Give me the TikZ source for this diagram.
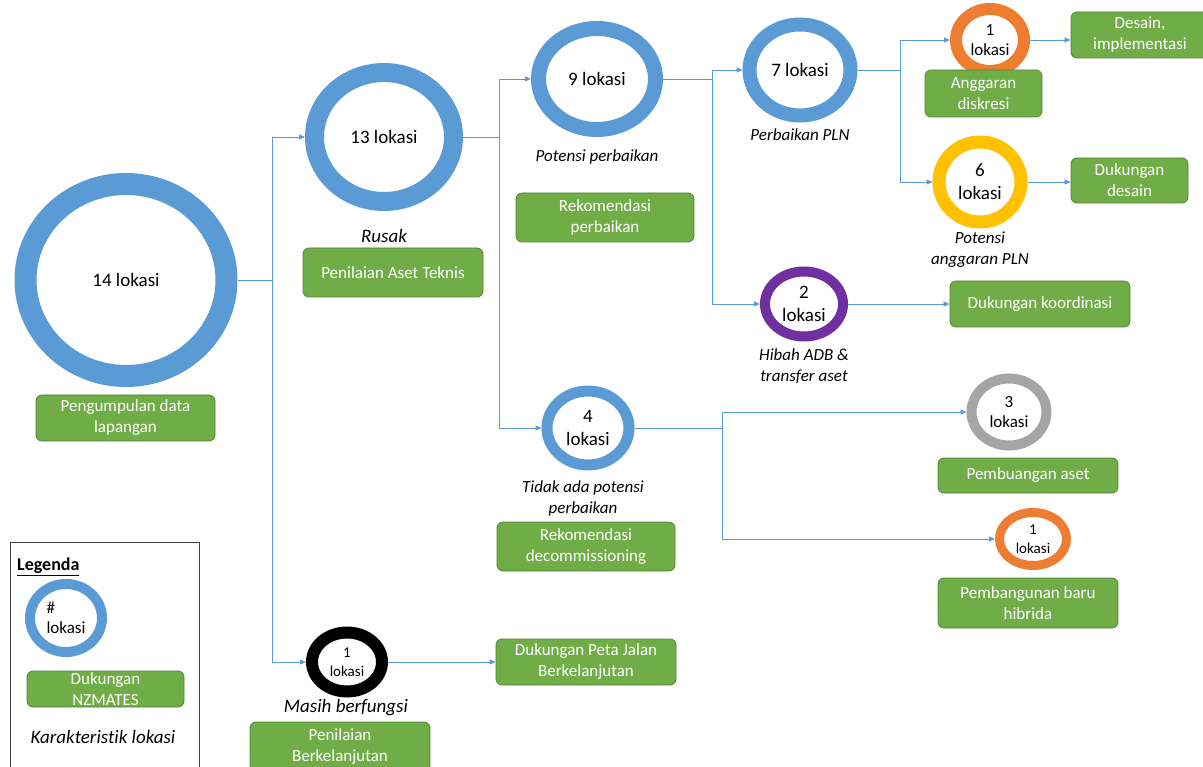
\documentclass[tikz,border=0pt]{standalone}
\usepackage{fontspec}
\setmainfont{Carlito}[Ligatures=NoCommon]
\usetikzlibrary{shapes.geometric,arrows.meta}

\definecolor{ringblue}{HTML}{5B9BD5}
\definecolor{ringorange}{HTML}{ED7D31}
\definecolor{ringyellow}{HTML}{FFC000}
\definecolor{ringpurple}{HTML}{7030A0}
\definecolor{ringgrey}{HTML}{A5A5A5}
\definecolor{boxgreen}{HTML}{70AD47}
\definecolor{boxedge}{HTML}{548235}
\definecolor{linkblue}{HTML}{5B9BD5}

\tikzset{
  ring/.style={ellipse, fill=white, inner sep=0pt, align=center, text=black},
  tbig/.style={font=\fontsize{19}{23}\selectfont},
  tmid/.style={font=\fontsize{17}{20}\selectfont},
  tsmall/.style={font=\fontsize{15}{19}\selectfont},
  greenbox/.style={rectangle, rounded corners=6pt, fill=boxgreen, draw=boxedge,
    line width=0.8pt, text=white, align=center, inner sep=0pt,
    font=\fontsize{17}{21}\selectfont},
  note/.style={font=\fontsize{17}{21}\selectfont\itshape, align=center, inner sep=0pt},
  bignote/.style={font=\fontsize{19}{23}\selectfont\itshape, align=center, inner sep=0pt},
  conn/.style={draw=linkblue, line width=0.75pt, -{Triangle[length=6pt,width=5pt]}},
  link/.style={draw=linkblue, line width=0.75pt},
}

\begin{document}
\begin{tikzpicture}[x=1pt,y=-1pt]
\useasboundingbox (0,0) rectangle (1203,767);

% ---- rings: site counts ----
\node[ring, draw=ringblue, line width=22pt, minimum width=201pt, minimum height=192pt, tbig] (n14) at (126,280) {14 lokasi};
\node[ring, draw=ringblue, line width=19pt, minimum width=139pt, minimum height=129pt, tbig] (n13) at (384,137) {13 lokasi};
\node[ring, draw=ringblue, line width=15pt, minimum width=117pt, minimum height=101pt, tbig] (n9) at (597,79) {9 lokasi};
\node[ring, draw=ringblue, line width=14pt, minimum width=101pt, minimum height=91pt, tbig] (n7) at (800,70) {7 lokasi};
\node[ring, draw=ringorange, line width=12pt, minimum width=68pt, minimum height=62pt, tmid] (n1a) at (990,40) {1\\lokasi};
\node[ring, draw=ringyellow, line width=13pt, minimum width=82pt, minimum height=80pt, tbig] (n6) at (980,182) {6\\lokasi};
\node[ring, draw=ringpurple, line width=10pt, minimum width=78pt, minimum height=65pt, tbig] (n2) at (804,304) {2\\lokasi};
\node[ring, draw=ringblue, line width=11pt, minimum width=82pt, minimum height=74pt, tbig] (n4) at (588,428) {4\\lokasi};
\node[ring, draw=ringgrey, line width=10pt, minimum width=75pt, minimum height=67pt, tmid] (n3) at (1009,412) {3\\lokasi};
\node[ring, draw=ringorange, line width=9pt, minimum width=67pt, minimum height=53pt, tsmall] (n1b) at (1033,539) {1\\lokasi};
\node[ring, draw=black, line width=12pt, minimum width=70pt, minimum height=59pt, tsmall] (nblk) at (347,662) {1\\lokasi};

% ---- junction points of the elbow connectors ----
\coordinate (k1) at (272,280);
\coordinate (k2) at (499,137);
\coordinate (k3) at (712,79);
\coordinate (k4) at (900,70);
\coordinate (k5) at (722,428);

% ---- support boxes ----
\node[greenbox, minimum width=179pt, minimum height=46pt] (bpeng) at (125.5,418) {Pengumpulan data\\lapangan};
\node[greenbox, minimum width=180pt, minimum height=49pt] (baset) at (393,272.5) {Penilaian Aset Teknis};
\node[greenbox, minimum width=178pt, minimum height=49pt] (bperb) at (605,217.5) {Rekomendasi\\perbaikan};
\node[greenbox, minimum width=138pt, minimum height=46pt] (bdes) at (1140,35) {Desain,\\implementasi};
\node[greenbox, minimum width=117pt, minimum height=47pt] (bangg) at (983.5,93.5) {Anggaran\\diskresi};
\node[greenbox, minimum width=117pt, minimum height=45pt] (bdukd) at (1129.5,180.5) {Dukungan\\desain};
\node[greenbox, minimum width=180pt, minimum height=46pt] (bkoord) at (1040,304) {Dukungan koordinasi};
\node[greenbox, minimum width=178pt, minimum height=49pt] (bdecom) at (586,546.5) {Rekomendasi\\decommissioning};
\node[greenbox, minimum width=180pt, minimum height=35pt] (bbuang) at (1028,475.5) {Pembuangan aset};
\node[greenbox, minimum width=180pt, minimum height=50pt] (bhib) at (1028,603) {Pembangunan baru\\hibrida};
\node[greenbox, minimum width=180pt, minimum height=46pt] (bpeta) at (586,662) {Dukungan Peta Jalan\\Berkelanjutan};
\node[greenbox, minimum width=180pt, minimum height=50pt] (bberk) at (340,747) {Penilaian\\Berkelanjutan};

% ---- site characteristics ----
\node[bignote] (lrusak) at (384,236) {Rusak};
\node[note] (lpot) at (597,157) {Potensi perbaikan};
\node[note] (lpln) at (800,135) {Perbaikan PLN};
\node[note] (langg) at (980,250) {Potensi\\anggaran PLN};
\node[note] (lhibah) at (804,366) {Hibah ADB \&\\transfer aset};
\node[note] (ltidak) at (583,498) {Tidak ada potensi\\perbaikan};
\node[bignote] (lmasih) at (346,708) {Masih berfungsi};

% ---- connectors ----
\draw[link] (n14.east) -- (k1);
\draw[conn] (k1) |- (n13.west);
\draw[conn] (k1) |- (nblk.west);
\draw[link] (n13.east) -- (k2);
\draw[conn] (k2) |- (n9.west);
\draw[conn] (k2) |- (n4.west);
\draw[link] (n9.east) -- (k3);
\draw[conn] (k3) |- (n7.west);
\draw[conn] (k3) |- (n2.west);
\draw[link] (n7.east) -- (k4);
\draw[conn] (k4) |- (n1a.west);
\draw[conn] (k4) |- (n6.west);
\draw[link] (n4.east) -- (k5);
\draw[conn] (k5) |- (n3.west);
\draw[conn] (k5) |- (n1b.west);
\draw[conn] (n1a.east) -- (n1a.east -| bdes.west);
\draw[conn] (n6.east) -- (n6.east -| bdukd.west);
\draw[conn] (n2.east) -- (n2.east -| bkoord.west);
\draw[conn] (nblk.east) -- (nblk.east -| bpeta.west);

% ---- legend ----
\node[draw=black!75, line width=0.8pt, minimum width=189pt, minimum height=240pt,
      anchor=north west, inner sep=0pt] (legbox) at (10,542) {};
\node[anchor=west, inner sep=0pt, font=\fontsize{18}{22}\selectfont\bfseries] (legtitle) at (17,567) {\underline{Legenda}};
\node[ring, draw=ringblue, line width=10pt, minimum width=72pt, minimum height=68pt,
      tmid, align=left] (legring) at (66,618) {\#\\lokasi};
\node[greenbox, minimum width=157pt, minimum height=36pt] (legbox2) at (105.5,689) {Dukungan\\NZMATES};
\node[bignote] (legnote) at (103,737) {Karakteristik lokasi};
\end{tikzpicture}
\end{document}
